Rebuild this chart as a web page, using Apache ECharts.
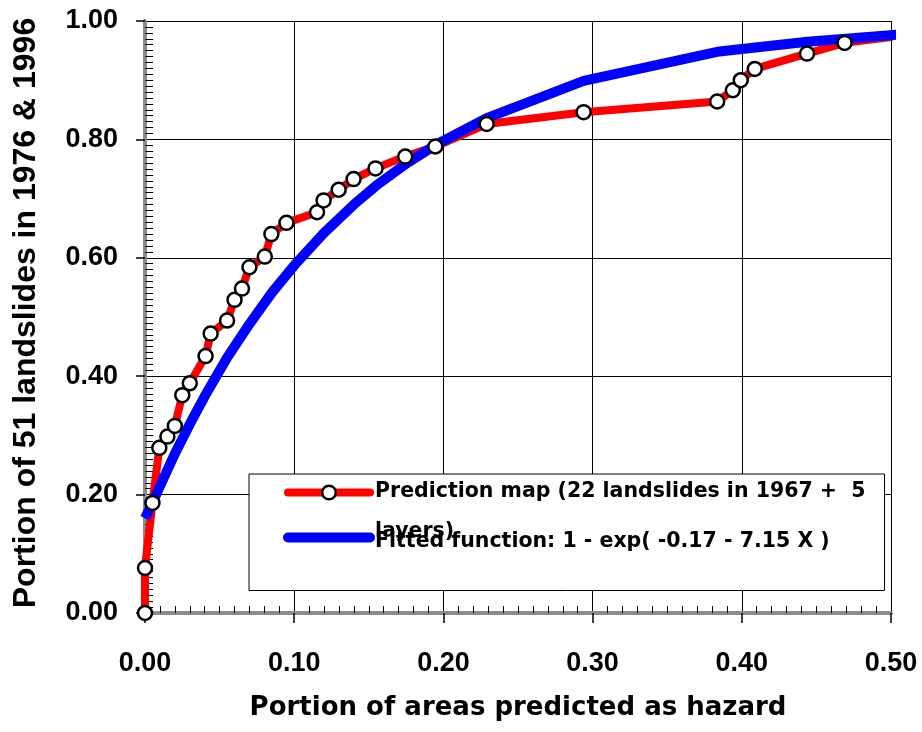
<!DOCTYPE html>
<html>
<head>
<meta charset="utf-8">
<title>Prediction rate curve</title>
<script src="https://cdn.jsdelivr.net/npm/echarts@6/dist/echarts.min.js"></script>
<style>
  html, body { margin: 0; padding: 0; background: #fff; }
  #chart { width: 922px; height: 732px; }
</style>
</head>
<body>
<div id="chart"></div>
<script>
// prediction map points (portion of area, portion of landslides)
const hazardX = [0, 0, 0.005, 0.0096, 0.015, 0.02, 0.025, 0.03, 0.0406, 0.044, 0.055, 0.06, 0.065, 0.07, 0.0803,
  0.0847, 0.0948, 0.1153, 0.1197, 0.1298, 0.1398, 0.1545, 0.1744, 0.1946, 0.229, 0.294, 0.3835, 0.394, 0.3993,
  0.4087, 0.4437, 0.4689]
const hazardY = [0, 0.076, 0.186, 0.279, 0.298, 0.316, 0.368, 0.388, 0.434, 0.472, 0.494, 0.529, 0.548, 0.584, 0.602,
  0.64, 0.659, 0.677, 0.697, 0.715, 0.733, 0.751, 0.771, 0.788, 0.826, 0.846, 0.864, 0.883, 0.9,
  0.919, 0.945, 0.963]
// red line runs on to the right edge without a marker
const hazardEnd = [0.5, 0.973]

// fitted curve
const fitX = [0, 0.005, 0.01, 0.02, 0.03, 0.04, 0.055, 0.07, 0.085, 0.1, 0.12, 0.14, 0.155, 0.175, 0.195,
  0.229, 0.294, 0.3835, 0.444, 0.505]
const fitY = [0.16, 0.186, 0.214, 0.269, 0.319, 0.366, 0.431, 0.488, 0.541, 0.587, 0.642, 0.69, 0.722, 0.759, 0.791,
  0.836, 0.899, 0.948, 0.965, 0.977]

const xTicks = ['0.00', '0.10', '0.20', '0.30', '0.40', '0.50']
const yTicks = ['0.00', '0.20', '0.40', '0.60', '0.80', '1.00']

const PRED = 'Prediction map (22 landslides in 1967 +  5 layers)'
const FIT = 'Fitted function: 1 - exp( -0.17 - 7.15 X )'
const xTitle = 'Portion of areas predicted as hazard'
const yTitle = 'Portion of 51 landslides in 1976 & 1996'

const predPoints = hazardX.map((x, i) => [x, hazardY[i]])
const fitPoints = fitX.map((x, i) => [x, fitY[i]])

const tickFont = {
  fontFamily: 'Liberation Sans, Arial, sans-serif',
  fontWeight: 'bold',
  fontSize: 27,
  color: '#000',
}
const markerStyle = {
  color: '#fff',
  borderColor: '#000',
  borderWidth: 2.5,
  opacity: 1,
}
const legendFont = { fontFamily: 'DejaVu Sans', fontWeight: 'bold', fontSize: 20.5, color: '#000' }

const chart = echarts.init(document.getElementById('chart'))

chart.setOption({
  animation: false,
  backgroundColor: '#fff',
  grid: {
    left: 145,
    right: 31,
    top: 21,
    bottom: 119,
    containLabel: false,
    outerBoundsMode: 'none',
  },
  legend: {
    orient: 'vertical',
    left: 249,
    top: 474,
    padding: [7.5, 19, 38.5, 34],
    itemGap: -19,
    itemWidth: 82,
    itemHeight: 17,
    backgroundColor: '#fff',
    borderColor: '#000',
    borderWidth: 1,
    selectedMode: false,
    data: [
      {
        name: PRED,
        lineStyle: { color: '#f00', width: 8, cap: 'round' },
        itemStyle: markerStyle,
      },
      {
        name: FIT,
        lineStyle: { color: '#00f', width: 10, cap: 'round' },
        itemStyle: { opacity: 0 },
      },
    ],
    formatter(name) {
      if (name === PRED) {
        const cut = name.lastIndexOf(' ')
        return '{a|' + name.slice(0, cut) + '}\n{b|' + name.slice(cut + 1) + '}'
      }
      return '{c|' + name + '}'
    },
    textStyle: {
      ...legendFont,
      rich: {
        a: { ...legendFont, lineHeight: 78 },
        b: { ...legendFont, lineHeight: 1 },
        c: { ...legendFont, lineHeight: 24, padding: [8, 0, 0, 0] },
      },
    },
  },
  xAxis: [{
    type: 'value',
    position: 'bottom',
    min: 0,
    max: 0.5,
    interval: 0.1,
    axisLine: { lineStyle: { color: '#000', width: 2 } },
    axisTick: { length: 10, lineStyle: { color: '#000', width: 1.5 } },
    axisLabel: {
      ...tickFont,
      margin: 37,
      formatter: (v) => xTicks[Math.round(v * 10)],
    },
    splitLine: { show: true, lineStyle: { color: '#000', width: 1 } },
    name: xTitle,
    nameLocation: 'middle',
    nameGap: 82,
    nameTextStyle: {
      fontFamily: 'DejaVu Sans, sans-serif',
      fontWeight: 'bold',
      fontSize: 26,
      color: '#000',
    },
  }, {
    // minor ticks pointing into the plot
    type: 'value',
    position: 'bottom',
    min: 0,
    max: 0.5,
    interval: 0.1,
    axisLine: { show: false },
    axisLabel: { show: false },
    axisTick: { show: false, inside: true },
    minorTick: { show: true, splitNumber: 10, length: 7, lineStyle: { color: '#000', width: 1 } },
    splitLine: { show: false },
  }, {
    type: 'value',
    position: 'top',
    min: 0,
    max: 0.5,
    axisLine: { lineStyle: { color: '#8c8c8c', width: 4 } },
    axisLabel: { show: false },
    axisTick: { show: false },
    splitLine: { show: false },
  }],
  yAxis: [{
    type: 'value',
    position: 'left',
    min: 0,
    max: 1,
    interval: 0.2,
    axisLine: { lineStyle: { color: '#000', width: 2 } },
    axisTick: { length: 9, lineStyle: { color: '#000', width: 1.5 } },
    axisLabel: {
      ...tickFont,
      margin: 27,
      formatter: (v) => yTicks[Math.round(v * 5)],
    },
    splitLine: { show: true, lineStyle: { color: '#000', width: 1 } },
    name: yTitle,
    nameLocation: 'middle',
    nameRotate: 90,
    nameGap: 103,
    nameTextStyle: {
      fontFamily: 'Liberation Sans, Arial, sans-serif',
      fontWeight: 'bold',
      fontSize: 32,
      color: '#000',
      padding: [0, 0, 0, 8],
    },
  }, {
    type: 'value',
    position: 'left',
    min: 0,
    max: 1,
    interval: 0.2,
    axisLine: { show: false },
    axisLabel: { show: false },
    axisTick: { show: false, inside: true },
    minorTick: { show: true, splitNumber: 20, length: 8, lineStyle: { color: '#000', width: 1 } },
    splitLine: { show: false },
  }, {
    type: 'value',
    position: 'right',
    min: 0,
    max: 1,
    axisLine: { lineStyle: { color: '#8c8c8c', width: 4 } },
    axisLabel: { show: false },
    axisTick: { show: false },
    splitLine: { show: false },
  }],
  series: [{
    name: PRED,
    type: 'line',
    data: predPoints.concat([hazardEnd]),
    symbol: 'circle',
    symbolSize: 14,
    showSymbol: false,
    clip: false,
    z: 2,
    itemStyle: markerStyle,
    lineStyle: { color: '#f00', width: 8, cap: 'round', join: 'round' },
  }, {
    name: FIT,
    type: 'line',
    data: fitPoints,
    symbol: 'none',
    clip: false,
    z: 3,
    color: '#00f',
    lineStyle: { color: '#00f', width: 10, cap: 'butt', join: 'round' },
  }, {
    name: 'markers',
    type: 'scatter',
    data: predPoints,
    symbol: 'circle',
    symbolSize: 14,
    clip: false,
    z: 4,
    itemStyle: markerStyle,
  }],
})
</script>
</body>
</html>
